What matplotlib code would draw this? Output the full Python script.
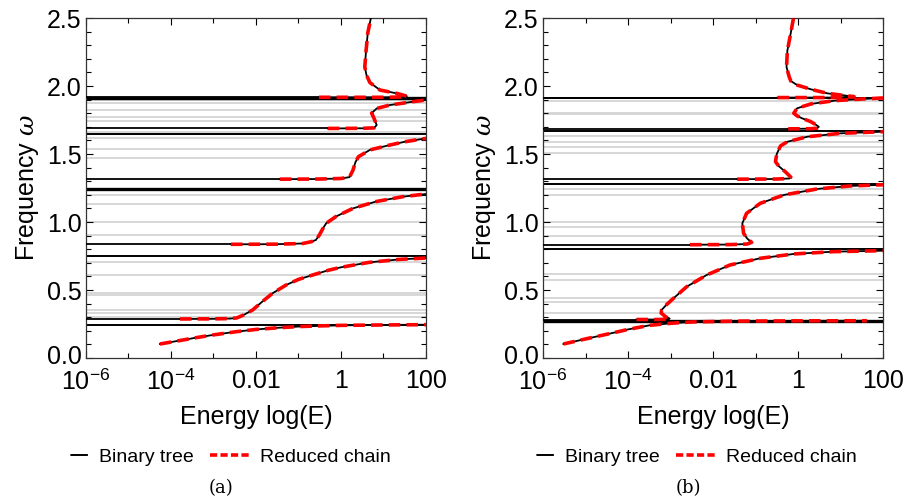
import numpy as np
import matplotlib
matplotlib.use("Agg")
import matplotlib.pyplot as plt
import matplotlib.transforms as mtransforms
from matplotlib.lines import Line2D
from matplotlib.ticker import FixedLocator, FixedFormatter, MultipleLocator, NullFormatter

plt.rcParams['font.family'] = ['Liberation Sans', 'DejaVu Sans']
plt.rcParams['mathtext.fontset'] = 'custom'
plt.rcParams['mathtext.rm'] = 'Liberation Sans'
plt.rcParams['mathtext.it'] = 'DejaVu Serif:italic'

# ---------------- data (log10 E, omega) ----------------
# Panel (a)
a_b1 = [(-4.26,0.103),(-3.8,0.128),(-3.4,0.150),(-3.0,0.170),(-2.5,0.192),(-2.0,0.210),
        (-1.5,0.222),(-1.0,0.231),(-0.5,0.236),(0.0,0.240),(1.0,0.243),(2.0,0.245)]
a_b2 = [(-3.79,0.287),(-3.0,0.288),(-2.6,0.290),(-2.45,0.295),(-2.3,0.315),(-2.08,0.353),
        (-1.85,0.415),(-1.61,0.476),(-1.29,0.537),(-1.0,0.578),(-0.67,0.61),(-0.3,0.645),
        (0.0,0.667),(0.66,0.703),(1.37,0.725),(2.0,0.735)]
a_b3 = [(-2.59,0.836),(-1.5,0.837),(-0.9,0.842),(-0.7,0.855),(-0.59,0.868),(-0.51,0.904),
        (-0.43,0.95),(-0.35,0.99),(-0.12,1.04),(0.28,1.10),(0.82,1.15),(1.45,1.186),(2.0,1.206)]
a_b4 = [(-1.44,1.315),(-0.5,1.316),(0.0,1.32),(0.2,1.33),(0.28,1.38),(0.34,1.44),(0.41,1.48),
        (0.68,1.53),(1.15,1.566),(1.5,1.59),(2.0,1.615)]
a_b5 = [(-0.31,1.688),(0.5,1.689),(0.78,1.692),(0.84,1.713),(0.76,1.775),(0.72,1.80),
        (0.84,1.835),(1.15,1.86),(1.70,1.885),(2.0,1.897)]
a_b6 = [(-0.52,1.917),(1.0,1.917),(1.45,1.919),(1.55,1.925),(1.31,1.946),(0.92,1.97),
        (0.68,2.025),(0.60,2.08),(0.56,2.14),(0.59,2.26),(0.63,2.39),(0.71,2.51)]
a_branches = [a_b1, a_b2, a_b3, a_b4, a_b5, a_b6]
a_black_start = [False, True, True, True, True, True]   # flat black line from 1e-6
a_full = [0.245, 0.75, 1.243, 1.645, 1.913]
a_full_lw = [1.4, 1.4, 2.4, 1.4, 2.4]
a_gray = [0.304, 0.331, 0.353, 0.463, 0.475, 0.61, 0.708, 0.904, 1.002, 1.13, 1.199,
          1.468, 1.54, 1.618, 1.66, 1.74, 1.77, 1.82, 1.873, 1.897]

# Panel (b)
b_b1 = [(-5.52,0.103),(-5.0,0.14),(-4.42,0.18),(-4.0,0.21),(-3.5,0.24),(-3.0,0.255),
        (-2.5,0.265),(-1.5,0.271),(0.0,0.273),(1.62,0.274)]
b_b2 = [(-3.80,0.283),(-3.3,0.283),(-3.05,0.285),(-3.02,0.29),(-3.1,0.30),(-3.22,0.33),
        (-3.21,0.353),(-3.1,0.39),(-2.93,0.439),(-2.62,0.524),(-2.15,0.61),(-1.6,0.684),
        (-0.89,0.733),(-0.10,0.765),(0.84,0.782),(2.0,0.789)]
b_b3 = [(-2.54,0.833),(-1.6,0.834),(-1.2,0.838),(-1.09,0.85),(-1.2,0.88),(-1.28,0.917),
        (-1.31,0.99),(-1.21,1.064),(-0.89,1.137),(-0.33,1.199),(0.45,1.243),(1.23,1.265),(2.0,1.274)]
b_b4 = [(-1.43,1.315),(-0.5,1.316),(-0.2,1.32),(-0.17,1.33),(-0.3,1.37),(-0.45,1.41),
        (-0.53,1.443),(-0.5,1.5),(-0.41,1.56),(-0.25,1.59),(0.22,1.627),(1.0,1.652),(2.0,1.664)]
b_b5 = [(-0.23,1.685),(0.3,1.686),(0.45,1.69),(0.49,1.70),(0.42,1.715),(0.30,1.738),
        (0.1,1.762),(-0.02,1.78),(-0.10,1.80),(-0.02,1.836),(0.30,1.868),(0.85,1.892),
        (1.49,1.904),(2.0,1.912)]
b_b6 = [(-0.48,1.915),(0.8,1.915),(1.2,1.917),(1.32,1.922),(1.0,1.934),(0.69,1.946),
        (0.30,1.976),(-0.02,2.007),(-0.17,2.037),(-0.21,2.07),(-0.27,2.14),(-0.25,2.26),
        (-0.17,2.39),(-0.10,2.51)]
b_branches = [b_b1, b_b2, b_b3, b_b4, b_b5, b_b6]
b_black_start = [False, True, True, True, True, True]
b_full = [0.275, 0.80, 1.278, 1.668, 1.912]
b_full_lw = [2.4, 1.4, 1.4, 1.4, 1.4]
b_gray = [0.33, 0.415, 0.44, 0.57, 0.615, 0.90, 0.965, 1.0, 1.195, 1.245, 1.505, 1.555,
          1.59, 1.63, 1.795, 1.805, 1.89]

xtick_vals = [1e-6, 1e-4, 1e-2, 1, 100]
xtick_labels = [r'$10^{-6}$', r'$10^{-4}$', '0.01', '1', '100']
ytick_vals = [0.0, 0.5, 1.0, 1.5, 2.0, 2.5]

# ---------------- figure ----------------
fig = plt.figure(figsize=(9.18, 5.01), dpi=100)
ax_a = fig.add_axes([86/918, 1-358/501, 340/918, 340/501])
ax_b = fig.add_axes([543/918, 1-358/501, 340/918, 340/501])

def draw(ax, branches, black_start, full, full_lw, gray):
    for g in gray:
        ax.axhline(g, color='#d4d4d4', lw=1.3, zorder=1)
    for f, lw in zip(full, full_lw):
        ax.axhline(f, color='black', lw=lw, zorder=2)
    for br, bs in zip(branches, black_start):
        le = np.array([p[0] for p in br])
        w = np.array([p[1] for p in br])
        E = 10.0 ** le
        if bs:
            ax.plot([1e-6, E[0]], [w[0], w[0]], color='black', lw=1.3, zorder=3)
        ax.plot(E, w, color='black', lw=1.3, zorder=3)
        ax.plot(E, w, color='#ff0000', lw=2.6, ls=(0, (3.2, 1.7)), zorder=4)
    ax.set_xscale('log')
    ax.set_xlim(1e-6, 100)
    ax.set_ylim(0, 2.5)
    ax.xaxis.set_major_locator(FixedLocator(xtick_vals))
    ax.xaxis.set_major_formatter(FixedFormatter(xtick_labels))
    ax.xaxis.set_minor_locator(FixedLocator([10.0**k for k in range(-6, 3)]))
    ax.xaxis.set_minor_formatter(NullFormatter())
    ax.set_yticks(ytick_vals)
    ax.set_yticklabels([f'{v:.1f}' for v in ytick_vals])
    ax.yaxis.set_minor_locator(MultipleLocator(0.1))
    ax.tick_params(which='both', direction='in', top=True, right=True, width=0.8)
    ax.tick_params(axis='y', labelsize=18, pad=3)
    ax.tick_params(axis='x', labelsize=18, pad=8)
    ax.tick_params(which='major', length=5)
    ax.tick_params(which='minor', length=3.5)
    for s in ax.spines.values():
        s.set_linewidth(0.9)
        s.set_color('#333333')
    ax.set_xlabel('Energy log(E)', fontsize=18, labelpad=7)
    ax.set_ylabel(r'Frequency $\omega$', fontsize=18, labelpad=4)
    # nudge the bottom y label up slightly so it does not touch the x labels
    lbl0 = ax.get_yticklabels()[0]
    lbl0.set_transform(lbl0.get_transform() +
                       mtransforms.ScaledTranslation(0, 4/100, fig.dpi_scale_trans))

draw(ax_a, a_branches, a_black_start, a_full, a_full_lw, a_gray)
draw(ax_b, b_branches, b_black_start, b_full, b_full_lw, b_gray)

handles = [Line2D([], [], color='black', lw=1.4, ls=(9, (9, 11))),
           Line2D([], [], color='#ff0000', lw=2.6, ls=(0, (2.0, 0.9)))]
labels = ['Binary tree', 'Reduced chain']
for cx in (220/918, 686/918):
    fig.legend(handles, labels, loc='center', bbox_to_anchor=(cx, 1-457/501),
               ncol=2, frameon=False, fontsize=14, handlelength=2.0,
               columnspacing=0.8, handletextpad=0.6)

fig.text(221/918, 1-488/501, '(a)', ha='center', va='center', fontsize=13,
         family='DejaVu Serif')
fig.text(688/918, 1-488/501, '(b)', ha='center', va='center', fontsize=13,
         family='DejaVu Serif')

fig.savefig('out.png', dpi=100)
